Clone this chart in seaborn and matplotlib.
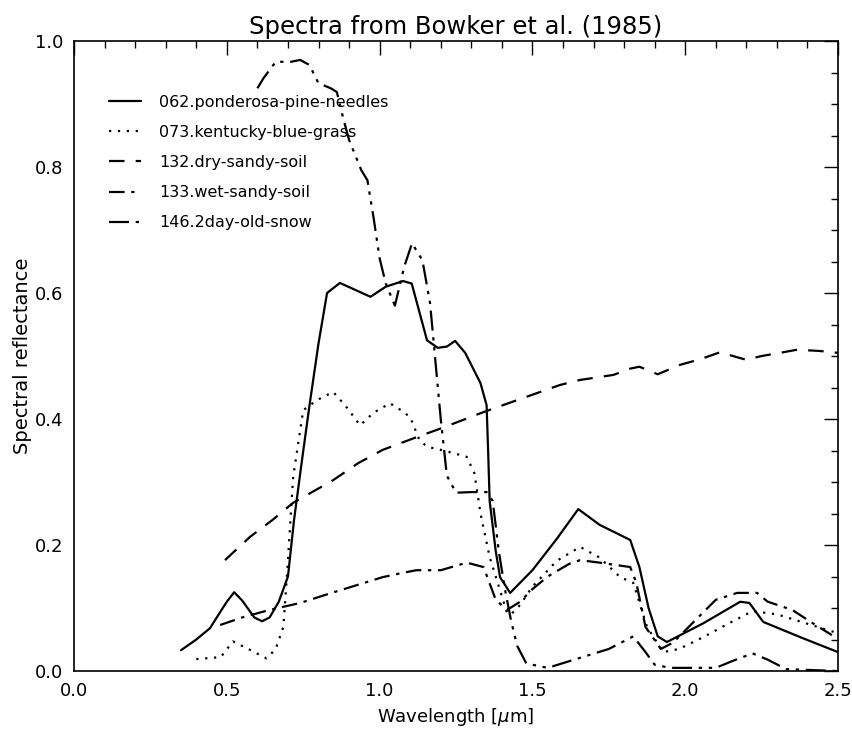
import matplotlib
matplotlib.use("Agg")
import matplotlib.pyplot as plt
import seaborn as sns
import pandas as pd
from matplotlib.lines import Line2D
from matplotlib.ticker import MultipleLocator

# ---------------- data ----------------
pine_x = [0.35, 0.40, 0.445, 0.48, 0.50, 0.524, 0.55, 0.59, 0.615, 0.64, 0.67, 0.70, 0.72, 0.746,
          0.77, 0.80, 0.828, 0.87, 0.92, 0.97, 1.02, 1.077, 1.105, 1.13, 1.155, 1.19, 1.22, 1.247,
          1.28, 1.33, 1.35, 1.355, 1.36, 1.38, 1.394, 1.427, 1.50, 1.58, 1.65, 1.72, 1.82, 1.85,
          1.88, 1.91, 1.94, 2.06, 2.18, 2.21, 2.255, 2.38, 2.50]
pine_y = [0.033, 0.05, 0.068, 0.095, 0.11, 0.125, 0.112, 0.085, 0.079, 0.085, 0.11, 0.15, 0.24, 0.335,
          0.42, 0.52, 0.60, 0.616, 0.605, 0.594, 0.61, 0.619, 0.615, 0.57, 0.525, 0.513, 0.515, 0.524,
          0.505, 0.457, 0.422, 0.35, 0.27, 0.19, 0.149, 0.124, 0.16, 0.21, 0.257, 0.232, 0.208, 0.165,
          0.10, 0.055, 0.046, 0.076, 0.11, 0.108, 0.078, 0.053, 0.03]

grass_x = [0.40, 0.48, 0.52, 0.57, 0.63, 0.66, 0.685, 0.70, 0.717, 0.75, 0.795, 0.848, 0.89, 0.936,
           0.98, 1.034, 1.07, 1.10, 1.13, 1.155, 1.21, 1.285, 1.31, 1.32, 1.33, 1.36, 1.394, 1.417,
           1.43, 1.46, 1.50, 1.58, 1.656, 1.72, 1.787, 1.83, 1.875, 1.928, 1.98, 2.06, 2.14, 2.22,
           2.30, 2.40, 2.50]
grass_y = [0.019, 0.022, 0.047, 0.035, 0.02, 0.035, 0.07, 0.176, 0.308, 0.414, 0.43, 0.443, 0.42, 0.39,
           0.41, 0.425, 0.414, 0.403, 0.367, 0.356, 0.35, 0.34, 0.314, 0.283, 0.25, 0.181, 0.128, 0.092,
           0.09, 0.105, 0.134, 0.175, 0.197, 0.18, 0.149, 0.14, 0.07, 0.03, 0.035, 0.054, 0.075, 0.095,
           0.09, 0.075, 0.06]

dry_x = [0.494, 0.576, 0.65, 0.717, 0.848, 0.93, 1.01, 1.12, 1.20, 1.34, 1.45, 1.59, 1.656, 1.765,
         1.82, 1.85, 1.91, 1.983, 2.05, 2.114, 2.17, 2.20, 2.25, 2.31, 2.366, 2.44, 2.50]
dry_y = [0.176, 0.213, 0.24, 0.267, 0.303, 0.33, 0.351, 0.371, 0.385, 0.411, 0.43, 0.454, 0.462, 0.47,
         0.48, 0.483, 0.471, 0.486, 0.495, 0.506, 0.498, 0.494, 0.50, 0.505, 0.51, 0.508, 0.505]

wet_x = [0.478, 0.55, 0.64, 0.74, 0.83, 0.91, 1.01, 1.067, 1.12, 1.20, 1.285, 1.34, 1.38, 1.417,
         1.46, 1.50, 1.55, 1.62, 1.656, 1.72, 1.82, 1.84, 1.87, 1.92, 1.96, 2.04, 2.10, 2.17, 2.235,
         2.27, 2.35, 2.42, 2.48]
wet_y = [0.073, 0.085, 0.097, 0.108, 0.122, 0.134, 0.149, 0.155, 0.16, 0.16, 0.172, 0.165, 0.113, 0.097,
         0.11, 0.13, 0.15, 0.17, 0.176, 0.172, 0.165, 0.14, 0.07, 0.035, 0.045, 0.084, 0.113, 0.124, 0.124,
         0.11, 0.097, 0.075, 0.057]

snow_x = [0.60, 0.62, 0.66, 0.71, 0.74, 0.77, 0.80, 0.84, 0.86, 0.88, 0.90, 0.94, 0.96, 0.98, 1.00,
          1.02, 1.05, 1.08, 1.106, 1.14, 1.165, 1.18, 1.20, 1.22, 1.25, 1.30, 1.35, 1.37, 1.39, 1.41,
          1.43, 1.45, 1.48, 1.55, 1.65, 1.75, 1.83, 1.87, 1.90, 1.95, 2.10, 2.15, 2.22, 2.27, 2.33, 2.50]
snow_y = [0.925, 0.941, 0.967, 0.967, 0.97, 0.962, 0.933, 0.925, 0.919, 0.879, 0.843, 0.795, 0.779, 0.72,
          0.655, 0.615, 0.58, 0.641, 0.679, 0.652, 0.584, 0.505, 0.40, 0.31, 0.283, 0.284, 0.284, 0.27,
          0.19, 0.13, 0.08, 0.04, 0.012, 0.005, 0.02, 0.035, 0.055, 0.03, 0.01, 0.005, 0.005, 0.015,
          0.028, 0.018, 0.003, 0.0]

labels = ["062.ponderosa-pine-needles", "073.kentucky-blue-grass", "132.dry-sandy-soil",
          "133.wet-sandy-soil", "146.2day-old-snow"]
x_ticks = [0.0, 0.5, 1.0, 1.5, 2.0, 2.5]
y_ticks = [0.0, 0.2, 0.4, 0.6, 0.8, 1.0]

# ---------------- figure ----------------
sns.set_style("white")
plt.rcParams["font.family"] = ["DejaVu Sans"]
plt.rcParams["mathtext.fontset"] = "dejavusans"
plt.rcParams["text.color"] = "black"
plt.rcParams["axes.labelcolor"] = "black"
plt.rcParams["xtick.color"] = "black"
plt.rcParams["ytick.color"] = "black"

fig = plt.figure(figsize=(8.52, 7.39), dpi=100)
ax = fig.add_axes([0.0869, 0.0920, 0.8967, 0.8525])

styles = ["-", (0, (1, 3)), (0, (7, 5)), (0, (7, 3, 1.5, 3)), (0, (9, 3, 1.5, 3, 1.5, 3))]
series = [(pine_x, pine_y), (grass_x, grass_y), (dry_x, dry_y), (wet_x, wet_y), (snow_x, snow_y)]

handles = []
for (xs, ys), ls, lab in zip(series, styles, labels):
    df = pd.DataFrame({"x": xs, "y": ys})
    sns.lineplot(data=df, x="x", y="y", ax=ax, color="black", linewidth=1.6,
                 sort=False, estimator=None, legend=False)
    ax.lines[-1].set_linestyle(ls)
    handles.append(Line2D([], [], color="black", linewidth=1.6, linestyle=ls, label=lab))

ax.set_xlim(0, 2.5)
ax.set_ylim(0, 1.0)
ax.set_xticks(x_ticks)
ax.set_yticks(y_ticks)
ax.set_xticklabels([f"{v:.1f}" for v in x_ticks])
ax.set_yticklabels([f"{v:.1f}" for v in y_ticks])
ax.xaxis.set_minor_locator(MultipleLocator(0.1))
ax.yaxis.set_minor_locator(MultipleLocator(0.05))
ax.tick_params(which="both", direction="in", top=True, right=True, color="black")
ax.tick_params(which="major", length=10, width=1.0, labelsize=13, pad=8)
ax.tick_params(which="minor", length=5, width=1.0)
for sp in ax.spines.values():
    sp.set_linewidth(1.2)
    sp.set_color("black")

ax.set_xlabel(r"Wavelength [$\mu$m]", fontsize=13, labelpad=4)
ax.set_ylabel("Spectral reflectance", fontsize=14, labelpad=2)
ax.set_title("Spectra from Bowker et al. (1985)", fontsize=17.5, pad=5)

ax.legend(handles=handles, loc="upper left", bbox_to_anchor=(0.038, 0.925), frameon=False,
          fontsize=11.5, handlelength=2.0, handletextpad=1.1, labelspacing=0.95, borderaxespad=0)

fig.savefig("out.png", dpi=100)
